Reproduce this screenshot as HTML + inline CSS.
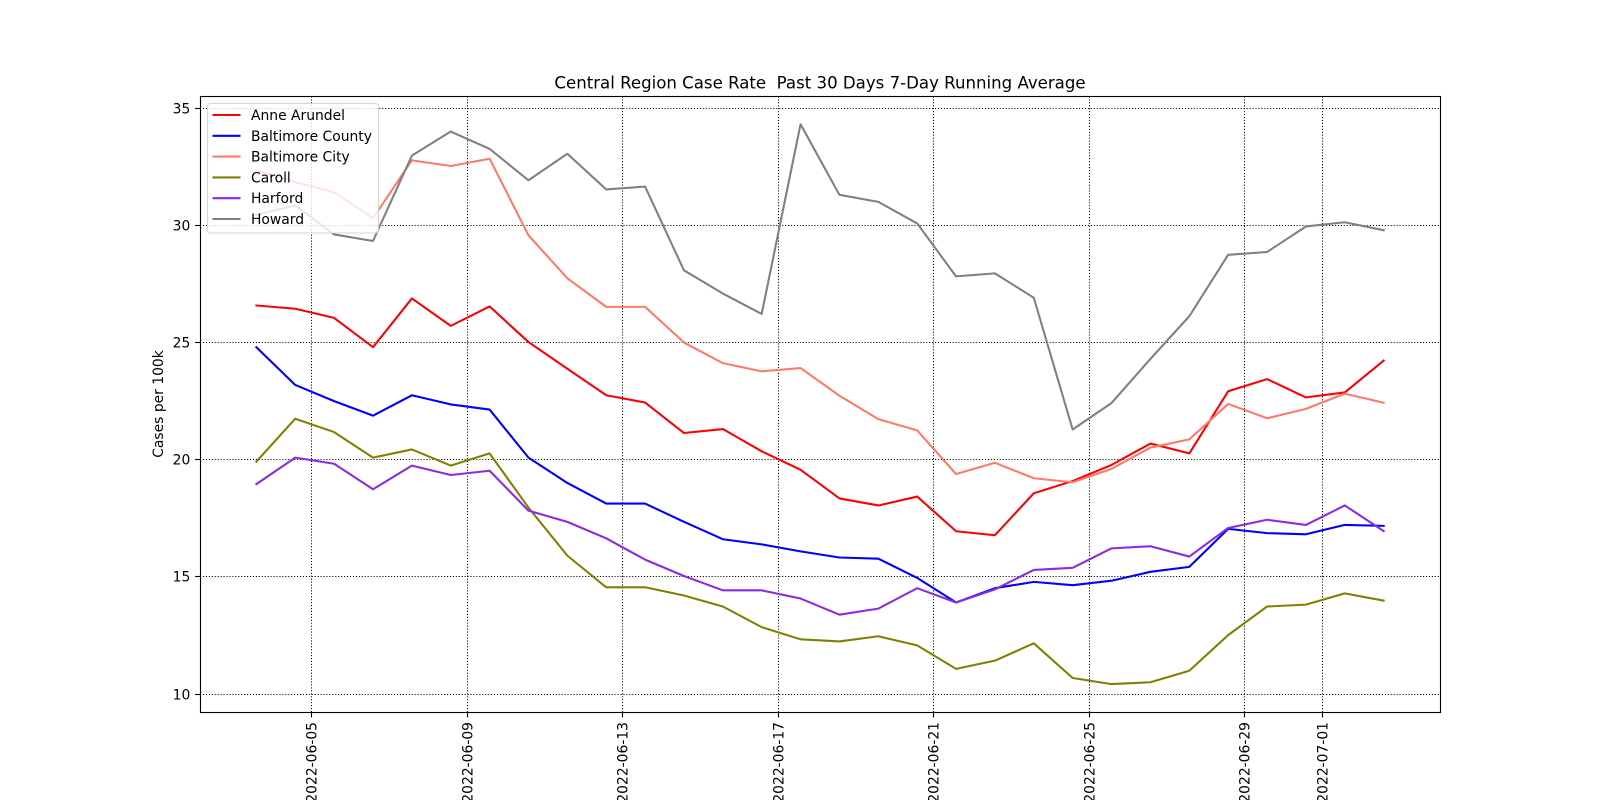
<!DOCTYPE html>
<html lang="en">
<head>
<meta charset="utf-8">
<title>Central Region Case Rate</title>
<style>
html,body{margin:0;padding:0;background:#fff;width:1600px;height:800px;overflow:hidden}
svg{display:block;font-family:"DejaVu Sans","Liberation Sans",sans-serif}
text{fill:#000;white-space:pre}
</style>
</head>
<body>
<svg id="chart" xmlns="http://www.w3.org/2000/svg" width="1600" height="800" viewBox="0 0 1600 800">
<rect x="0" y="0" width="1600" height="800" fill="#fff"/>
<text x="820" y="88.5" font-size="16.6" text-anchor="middle" xml:space="preserve">Central Region Case Rate  Past 30 Days 7-Day Running Average</text>
<text transform="translate(163,404) rotate(-90)" font-size="13.89" text-anchor="middle">Cases per 100k</text>
<g id="grid"></g>
<g id="series"></g>
<rect x="200.5" y="96.5" width="1240" height="616" fill="none" stroke="#000" stroke-width="1.11"/>
<g id="ticks"></g>
<g id="legend"></g>
</svg>
<script>
const dates = ['2022-06-03T13:50','2022-06-04T13:50','2022-06-05T13:50','2022-06-06T13:50','2022-06-07T13:50','2022-06-08T13:50','2022-06-09T13:50','2022-06-10T13:50','2022-06-11T13:50','2022-06-12T13:50','2022-06-13T13:50','2022-06-14T13:50','2022-06-15T13:50','2022-06-16T13:50','2022-06-17T13:50','2022-06-18T13:50','2022-06-19T13:50','2022-06-20T13:50','2022-06-21T13:50','2022-06-22T13:50','2022-06-23T13:50','2022-06-24T13:50','2022-06-25T13:50','2022-06-26T13:50','2022-06-27T13:50','2022-06-28T13:50','2022-06-29T13:50','2022-06-30T13:50','2022-07-01T13:50','2022-07-02T13:50'];
const anneArundel = [26.58,26.44,26.05,24.8,26.88,25.71,26.54,25.02,23.88,22.75,22.44,21.14,21.31,20.36,19.57,18.35,18.05,18.43,16.95,16.78,18.57,19.09,19.78,20.69,20.27,22.92,23.44,22.66,22.87,24.23];
const baltimoreCounty = [24.8,23.19,22.5,21.88,22.75,22.36,22.14,20.09,19.01,18.13,18.13,17.35,16.61,16.39,16.09,15.83,15.78,14.96,13.91,14.52,14.79,14.65,14.84,15.22,15.43,17.05,16.87,16.82,17.22,17.18];
const baltimoreCity = [32.34,31.84,31.41,30.3,32.77,32.53,32.84,29.57,27.74,26.52,26.52,25.0,24.12,23.77,23.91,22.73,21.73,21.25,19.39,19.87,19.21,19.04,19.61,20.52,20.87,22.38,21.77,22.17,22.82,22.43];
const caroll = [19.92,21.75,21.18,20.09,20.44,19.75,20.27,17.96,15.91,14.56,14.56,14.21,13.74,12.86,12.34,12.25,12.47,12.08,11.08,11.43,12.17,10.69,10.43,10.51,11.0,12.52,13.74,13.82,14.3,13.99];
const harford = [18.96,20.09,19.83,18.74,19.75,19.35,19.53,17.83,17.35,16.65,15.74,15.04,14.43,14.43,14.08,13.39,13.65,14.52,13.91,14.47,15.3,15.39,16.22,16.31,15.87,17.09,17.44,17.22,18.05,16.96];
const howard = [30.45,30.85,29.61,29.33,32.97,34.0,33.26,31.92,33.05,31.53,31.65,28.08,27.09,26.22,34.31,31.3,31.0,30.08,27.82,27.95,26.91,21.29,22.42,24.3,26.12,28.74,28.86,29.95,30.13,29.79];
const seriesNames = ['Anne Arundel','Baltimore County','Baltimore City','Caroll','Harford','Howard'];
const seriesValues = [anneArundel,baltimoreCounty,baltimoreCity,caroll,harford,howard];
const seriesColors = ['#ff0000','#0000ff','#ff796c','#808000','#8a2be2','#808080'];
const xTickLabels = ['2022-06-05','2022-06-09','2022-06-13','2022-06-17','2022-06-21','2022-06-25','2022-06-29','2022-07-01'];
const yTickLabels = [10,15,20,25,30,35];

const NS = 'http://www.w3.org/2000/svg';
const plot = {left:200, right:1440, top:96, bottom:712};
const yMin = 9.24, yMax = 35.515;
const tms = dates.map(d => Date.parse(d + ':00Z'));
const tMin = Math.min(...tms), tMax = Math.max(...tms);
const tPad = (tMax - tMin) * 0.05;
function xScale(ms){ return plot.left + (ms - (tMin - tPad)) / (tMax - tMin + 2 * tPad) * (plot.right - plot.left); }
function yScale(v){ return plot.bottom - (v - yMin) / (yMax - yMin) * (plot.bottom - plot.top); }
function make(tag, parent){ const el = document.createElementNS(NS, tag); parent.appendChild(el); return el; }
function set(el, attrs){ for (const k in attrs) el.setAttribute(k, attrs[k]); return el; }

const gridG = document.getElementById('grid');
const ticksG = document.getElementById('ticks');
const seriesG = document.getElementById('series');
const legendG = document.getElementById('legend');

xTickLabels.forEach(label => {
  const x = Math.floor(xScale(Date.parse(label + 'T00:00:00Z'))) + 0.5;
  const g = make('line', gridG);
  
  
  set(g, {x1:x, x2:x, y1:plot.bottom, y2:plot.top, stroke:'#000', 'stroke-width':1.05, 'stroke-dasharray':'1.11 1.83'});
  const t = make('line', ticksG);
  
  
  set(t, {x1:x, x2:x, y1:plot.bottom, y2:plot.bottom + 5.4, stroke:'#000', 'stroke-width':1.11});
  const txt = make('text', ticksG);
  
  
  set(txt, {transform:'translate(' + (x + 5) + ',722) rotate(-90)', 'font-size':13.89, 'text-anchor':'end'});
  txt.textContent = label;
});

yTickLabels.forEach(v => {
  const y = Math.floor(yScale(v)) + 0.5;
  const g = make('line', gridG);
  
  
  set(g, {x1:plot.left, x2:plot.right, y1:y, y2:y, stroke:'#000', 'stroke-width':1.05, 'stroke-dasharray':'1.11 1.83'});
  const t = make('line', ticksG);
  
  
  set(t, {x1:plot.left - 4.9, x2:plot.left, y1:y, y2:y, stroke:'#000', 'stroke-width':1.11});
  const txt = make('text', ticksG);
  
  
  set(txt, {x:190.3, y:y + 5, 'font-size':13.89, 'text-anchor':'end'});
  txt.textContent = String(v);
});

seriesValues.forEach((vals, i) => {
  const p = make('polyline', seriesG);
  
  
  set(p, {
    points: vals.map((v, j) => xScale(tms[j]).toFixed(2) + ',' + yScale(v).toFixed(2)).join(' '),
    fill:'none', stroke:seriesColors[i], 'stroke-width':2.08, 'stroke-linejoin':'round', 'stroke-linecap':'square'
  });
});

const frame = make('rect', legendG);


set(frame, {x:207.5, y:103.5, width:171, height:129.5, rx:3, ry:3, fill:'#fff', 'fill-opacity':0.8, stroke:'#ccc', 'stroke-opacity':0.8, 'stroke-width':1.11});
seriesNames.forEach((name, i) => {
  const y = 115 + i * 20.8;
  const l = make('line', legendG);
  
  
  set(l, {x1:212.5, x2:240.5, y1:y, y2:y, stroke:seriesColors[i], 'stroke-width':2.08});
  const t = make('text', legendG);
  
  
  set(t, {x:251, y:y + 5, 'font-size':13.89});
  t.textContent = name;
});
</script>
</body>
</html>
